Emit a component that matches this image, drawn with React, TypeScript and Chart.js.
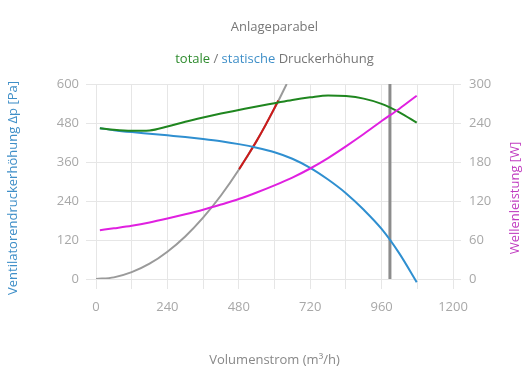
import React, { useEffect, useRef } from "react";
import { Chart, registerables } from "chart.js";

Chart.register(...registerables);

// ---- data ----
const flowQ = [13, 60, 120, 180, 240, 300, 360, 420, 480, 540, 600, 660, 720, 780, 840, 900, 960, 1020, 1078];
const staticPa = [464, 458, 452, 447, 442, 437, 431, 424, 415, 404, 390, 370, 342, 306, 264, 213, 154, 78, -10];
const totalPa = [464, 459, 456, 457, 469, 484, 497, 509, 520, 531, 541, 551, 559, 565, 563, 555, 539, 513, 481];
const powerW = [75, 78, 82, 87, 93, 99.5, 106.5, 114.5, 123, 133, 144, 156, 170, 186, 204, 223, 243, 262, 282];

const systemQ = [0, 60, 120, 180, 240, 300, 360, 420, 480, 540, 600, 641];
const systemPa = [0, 5, 21, 47, 84, 131, 189, 257, 336, 425, 525, 600];

const operatingQ = [481, 510, 540, 570, 613];
const operatingPa = [338, 380, 425, 474, 549];

const markerQ = [988, 988];
const markerPa = [0, 600];

const chartTitle = "Anlageparabel";
const subtitleParts = [
  { text: "totale", color: "#2e8b2e" },
  { text: " / ", color: "#777777" },
  { text: "statische", color: "#3f8fc8" },
  { text: " Druckerhöhung", color: "#777777" },
];
const xTitle = "Volumenstrom (m³/h)";
const yLeftTitle = "Ventilatorendruckerhöhung Δp [Pa]";
const yRightTitle = "Wellenleistung [W]";

const FONT = '"Open Sans", "Noto Sans", sans-serif';

const pts = (xs: number[], ys: number[]) => xs.map((x, i) => ({ x, y: ys[i] }));

const titlesPlugin = {
  id: "customTitles",
  afterDraw(chart: any) {
    const { ctx, chartArea } = chart;
    const cx = (chartArea.left + chartArea.right) / 2;
    ctx.save();
    ctx.textBaseline = "middle";
    ctx.font = `13px ${FONT}`;
    ctx.textAlign = "center";
    ctx.fillStyle = "#777777";
    ctx.fillText(chartTitle, cx, 27);

    ctx.textAlign = "left";
    const total = subtitleParts.reduce((w, p) => w + ctx.measureText(p.text).width, 0);
    let x = cx - total / 2;
    for (const p of subtitleParts) {
      ctx.fillStyle = p.color;
      ctx.fillText(p.text, x, 59);
      x += ctx.measureText(p.text).width;
    }

    ctx.textAlign = "center";
    ctx.fillStyle = "#888888";
    ctx.fillText(xTitle, cx, 360);

    ctx.save();
    ctx.translate(13, 188);
    ctx.rotate(-Math.PI / 2);
    ctx.fillStyle = "#3f8fc8";
    ctx.fillText(yLeftTitle, 0, 0);
    ctx.restore();

    ctx.save();
    ctx.translate(515, 198);
    ctx.rotate(-Math.PI / 2);
    ctx.fillStyle = "#c03cc0";
    ctx.fillText(yRightTitle, 0, 0);
    ctx.restore();

    ctx.restore();
  },
};

export default function App() {
  const ref = useRef<HTMLCanvasElement | null>(null);

  useEffect(() => {
    if (!ref.current) return;
    const gridColor = "#e6e6e6";
    const tickColor = "#a8a8a8";
    const chart = new Chart(ref.current, {
      type: "line",
      data: {
        datasets: [
          {
            label: "Marker",
            data: pts(markerQ, markerPa),
            borderColor: "#8c8c8c",
            borderWidth: 3,
            pointRadius: 0,
            yAxisID: "y",
            order: 5,
          },
          {
            label: "Anlageparabel",
            data: pts(systemQ, systemPa),
            borderColor: "#9a9a9a",
            borderWidth: 2,
            pointRadius: 0,
            cubicInterpolationMode: "monotone",
            yAxisID: "y",
            order: 4,
          },
          {
            label: "Betriebsbereich",
            data: pts(operatingQ, operatingPa),
            borderColor: "#cc1a1a",
            borderWidth: 2,
            pointRadius: 0,
            cubicInterpolationMode: "monotone",
            yAxisID: "y",
            order: 3,
          },
          {
            label: "statische",
            data: pts(flowQ, staticPa),
            borderColor: "#2f8fd0",
            borderWidth: 2,
            pointRadius: 0,
            cubicInterpolationMode: "monotone",
            yAxisID: "y",
            clip: false,
            order: 2,
          },
          {
            label: "totale",
            data: pts(flowQ, totalPa),
            borderColor: "#1f861f",
            borderWidth: 2,
            pointRadius: 0,
            cubicInterpolationMode: "monotone",
            yAxisID: "y",
            order: 1,
          },
          {
            label: "Wellenleistung",
            data: pts(flowQ, powerW),
            borderColor: "#e020e0",
            borderWidth: 2,
            pointRadius: 0,
            cubicInterpolationMode: "monotone",
            yAxisID: "y1",
            order: 0,
          },
        ],
      },
      options: {
        animation: false,
        responsive: true,
        maintainAspectRatio: false,
        layout: { padding: { top: 84, left: 0, right: 0, bottom: 0 } },
        plugins: {
          legend: { display: false },
          title: { display: false },
          tooltip: { enabled: false },
        },
        scales: {
          x: {
            type: "linear",
            min: 0,
            max: 1200,
            afterFit: (s: any) => {
              s.height = 111;
            },
            grid: { color: gridColor, tickLength: 10 },
            border: { color: gridColor },
            ticks: {
              stepSize: 120,
              autoSkip: false,
              maxRotation: 0,
              color: tickColor,
              padding: 10,
              font: { size: 13, family: FONT },
              callback: (v: any) => (Number(v) % 240 === 0 ? String(v) : ""),
            },
          },
          y: {
            type: "linear",
            position: "left",
            min: 0,
            max: 600,
            afterFit: (s: any) => {
              s.width = 96;
            },
            grid: { color: gridColor, tickLength: 10 },
            border: { color: gridColor },
            ticks: {
              stepSize: 120,
              color: tickColor,
              padding: 7,
              font: { size: 13, family: FONT },
            },
          },
          y1: {
            type: "linear",
            position: "right",
            min: 0,
            max: 300,
            afterFit: (s: any) => {
              s.width = 77;
            },
            grid: { drawOnChartArea: false, color: gridColor, tickLength: 8 },
            border: { color: gridColor },
            ticks: {
              stepSize: 60,
              color: tickColor,
              padding: 8,
              font: { size: 13, family: FONT },
            },
          },
        },
      },
      plugins: [titlesPlugin],
    } as any);
    return () => chart.destroy();
  }, []);

  return (
    <div style={{ position: "absolute", left: 0, top: 0, width: 530, height: 390, background: "#ffffff" }}>
      <canvas ref={ref} />
    </div>
  );
}
